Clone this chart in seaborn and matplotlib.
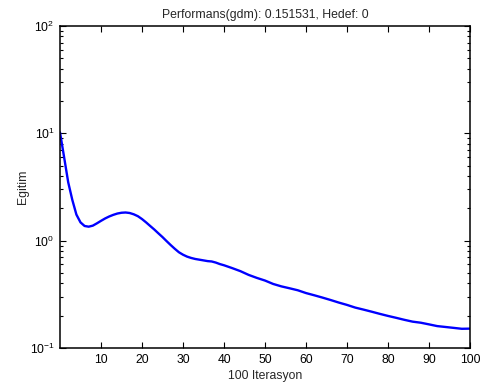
import matplotlib
matplotlib.use("Agg")
import matplotlib.pyplot as plt
import seaborn as sns
import pandas as pd
from matplotlib.ticker import LogLocator, NullFormatter

epochs = [0, 1, 2, 3, 4, 5, 6, 7, 8, 9, 10, 11, 12, 13, 14, 15, 16, 17, 18, 19,
          20, 21, 22, 23, 24, 25, 26, 27, 28, 29, 30, 31, 32, 33, 34, 35, 36, 37,
          38, 39, 40, 42, 44, 46, 48, 50, 52, 54, 56, 58, 60, 62, 64, 66, 68, 70,
          72, 74, 76, 78, 80, 82, 84, 86, 88, 90, 92, 94, 96, 98, 100]
performance = [10.2, 6.0, 3.5, 2.4, 1.75, 1.48, 1.37, 1.35, 1.38, 1.45, 1.53, 1.61,
               1.68, 1.74, 1.79, 1.82, 1.83, 1.81, 1.76, 1.69, 1.59, 1.48, 1.37,
               1.27, 1.17, 1.08, 0.99, 0.91, 0.84, 0.78, 0.74, 0.71, 0.69, 0.675,
               0.665, 0.655, 0.645, 0.64, 0.625, 0.605, 0.59, 0.555, 0.52, 0.48,
               0.45, 0.425, 0.395, 0.375, 0.36, 0.345, 0.325, 0.31, 0.295, 0.28,
               0.265, 0.252, 0.238, 0.228, 0.218, 0.208, 0.199, 0.191, 0.183,
               0.176, 0.172, 0.166, 0.160, 0.157, 0.154, 0.151, 0.1515]
x_ticks = [10, 20, 30, 40, 50, 60, 70, 80, 90, 100]

title = "Performans(gdm): 0.151531, Hedef: 0"
xlabel = "100 Iterasyon"
ylabel = "Egitim"

sns.set_style("ticks")
plt.rcParams["font.family"] = ["Liberation Sans", "DejaVu Sans"]
plt.rcParams["mathtext.fontset"] = "custom"
plt.rcParams["mathtext.rm"] = "Liberation Sans"
plt.rcParams["mathtext.it"] = "Liberation Sans"
plt.rcParams["mathtext.bf"] = "Liberation Sans"

df = pd.DataFrame({"epoch": epochs, "perf": performance})

fig = plt.figure(figsize=(4.82, 3.86), dpi=100)
ax = fig.add_axes([60 / 482, 38 / 386, 410 / 482, 322 / 386])
sns.lineplot(data=df, x="epoch", y="perf", ax=ax, color=(0, 0, 1), linewidth=1.7)
ax.set_yscale("log")
ax.set_xlim(0, 100)
ax.set_ylim(0.1, 100)
ax.set_xticks(x_ticks)
ax.set_xticklabels([str(t) for t in x_ticks])
ax.yaxis.set_major_locator(LogLocator(base=10, numticks=10))
ax.yaxis.set_minor_locator(LogLocator(base=10, subs=range(2, 10), numticks=20))
ax.yaxis.set_minor_formatter(NullFormatter())

for s in ax.spines.values():
    s.set_visible(True)
    s.set_linewidth(1.1)
    s.set_color("black")

ax.tick_params(which="both", direction="in", top=True, right=True,
               labelsize=8.7, colors="black", width=0.8)
ax.tick_params(which="major", length=4, pad=4)
ax.tick_params(which="minor", length=2.5)

ax.set_title(title, fontsize=8.8, pad=6)
ax.set_xlabel(xlabel, fontsize=8.8, labelpad=3)
ax.set_ylabel(ylabel, fontsize=8.8, labelpad=0.5)

fig.savefig("out.png", dpi=100)
